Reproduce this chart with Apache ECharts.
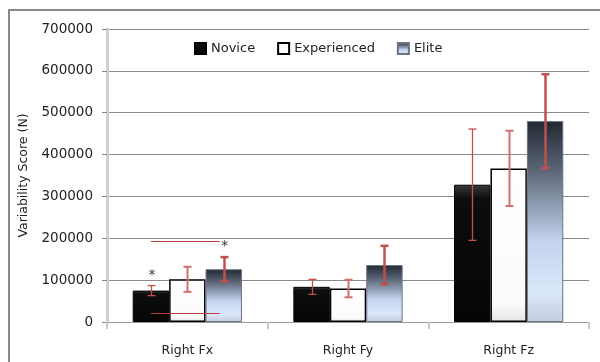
<!DOCTYPE html>
<html><head><meta charset="utf-8">
<script src="https://cdn.jsdelivr.net/npm/echarts@6/dist/echarts.min.js"></script>
<style>html,body{margin:0;padding:0;background:#fff}#c{width:600px;height:362px}</style>
</head><body><div id="c"></div>
<script>
const categories = ['Right Fx', 'Right Fy', 'Right Fz'];
const seriesNames = ['Novice', 'Experienced', 'Elite'];
const noviceMean = [75000, 84000, 328000];
const noviceErr = [12000, 18000, 133000];
const experiencedMean = [102000, 80000, 367000];
const experiencedErr = [30000, 21000, 90000];
const eliteMean = [126000, 136000, 480000];
const eliteErr = [29000, 46000, 112000];
const yTicks = [0, 100000, 200000, 300000, 400000, 500000, 600000, 700000];
// significance annotations: [categoryIndex, fromBar, toBar, value]
const sigLines = [[0, 0, 2, 193500], [0, 0, 2, 21500]];
// asterisks: [categoryIndex, barIndex, value]
const asterisks = [[0, 0, 122000], [0, 2, 190000]];

const means = [noviceMean, experiencedMean, eliteMean];
const errs = [noviceErr, experiencedErr, eliteErr];
const GAP = 0.32;

const barStyles = [
  { color: new echarts.graphic.LinearGradient(0,0,0,1,[{offset:0,color:'#3a3a3a'},{offset:0.1,color:'#0d0d0d'},{offset:1,color:'#050505'}]), borderColor:'#000', borderWidth:1 },
  { color: new echarts.graphic.LinearGradient(0,0,0,1,[{offset:0,color:'#ffffff'},{offset:0.88,color:'#fbfbfb'},{offset:1,color:'#e4e4e4'}]), borderColor:'#000', borderWidth:1.5 },
  { color: new echarts.graphic.LinearGradient(0,0,0,1,[{offset:0,color:'#222833'},{offset:0.25,color:'#5d6778'},{offset:0.6,color:'#c4d4ee'},{offset:0.85,color:'#dbe7fa'},{offset:1,color:'#c3cde0'}]), borderColor:'#6b7383', borderWidth:1 }
];
const errStyles = [
  { stroke:'#c0504d', lineWidth:1.3 },
  { stroke:'#d0706d', lineWidth:2 },
  { stroke:'#c0504d', lineWidth:2.5 }
];

function barOffset(api, k) {
  const band = api.size([1, 0])[0];
  const bw = band * (1 - GAP) / 3;
  return { bw: bw, off: (k - 1) * bw };
}

const series = [];
for (let k = 0; k < 3; k++) {
  series.push({
    name: seriesNames[k], type: 'bar', data: means[k],
    barGap: '0%', barCategoryGap: (GAP*100) + '%',
    itemStyle: barStyles[k], z: 2
  });
}
for (let k = 0; k < 3; k++) {
  series.push({
    type: 'custom', name: 'err' + k, z: 5, silent: true,
    data: categories.map((c, i) => [i, means[k][i] - errs[k][i], means[k][i] + errs[k][i]]),
    renderItem: function (params, api) {
      const i = api.value(0);
      const lo = api.coord([i, api.value(1)]);
      const hi = api.coord([i, api.value(2)]);
      const o = barOffset(api, k);
      const x = Math.round(lo[0] + o.off) + 0.5;
      const cw = 4;
      const st = errStyles[k];
      return { type: 'group', children: [
        { type: 'line', shape: { x1: x, y1: lo[1], x2: x, y2: hi[1] }, style: st },
        { type: 'line', shape: { x1: x - cw, y1: lo[1], x2: x + cw, y2: lo[1] }, style: st },
        { type: 'line', shape: { x1: x - cw, y1: hi[1], x2: x + cw, y2: hi[1] }, style: st }
      ]};
    }
  });
}
series.push({
  type: 'custom', name: 'sig', z: 6, silent: true,
  data: sigLines,
  renderItem: function (params, api) {
    const i = api.value(0);
    const p = api.coord([i, api.value(3)]);
    const a = barOffset(api, api.value(1));
    const b = barOffset(api, api.value(2));
    const y = Math.round(p[1]) + 0.5;
    return { type: 'line', shape: { x1: p[0] + a.off, y1: y, x2: p[0] + b.off - 4, y2: y }, style: { stroke: '#c0393a', lineWidth: 1.2 } };
  }
});
series.push({
  type: 'custom', name: 'ast', z: 6, silent: true,
  data: asterisks,
  renderItem: function (params, api) {
    const i = api.value(0);
    const p = api.coord([i, api.value(2)]);
    const o = barOffset(api, api.value(1));
    return { type: 'text', style: { x: p[0] + o.off + 1, y: p[1] + 4, text: '*', fill: '#333', font: '14px "DejaVu Sans"', align: 'center', verticalAlign: 'middle' } };
  }
});

const chart = echarts.init(document.getElementById('c'), null, { renderer: 'canvas' });
chart.setOption({
  animation: false,
  backgroundColor: '#fff',
  textStyle: { fontFamily: 'DejaVu Sans' },
  graphic: [
    { type: 'polyline', shape: { points: [[9, 362], [9, 10], [600, 10]] }, style: { stroke: '#8a8a8a', lineWidth: 2, fill: null }, silent: true }
  ],
  legend: {
    data: seriesNames, top: 42, left: 194, padding: 0, itemWidth: 11, itemHeight: 11, itemGap: 22,
    textStyle: { fontSize: 13, color: '#222', fontFamily: 'DejaVu Sans' },
    icon: 'rect'
  },
  grid: { left: 107, right: 11, top: 29, bottom: 40 },
  xAxis: {
    type: 'category', data: categories,
    axisLine: { lineStyle: { color: '#999', width: 1 } },
    axisTick: { show: true, length: 7, lineStyle: { color: '#c8c8c8', width: 2 } },
    axisLabel: { color: '#222', fontSize: 12.5, margin: 22 }
  },
  yAxis: {
    type: 'value', min: 0, max: 700000, interval: 100000,
    name: 'Variability Score (N)', nameLocation: 'middle', nameGap: 74,
    nameTextStyle: { fontSize: 12.5, color: '#222' },
    axisLine: { show: true, lineStyle: { color: '#d0d0d0', width: 3 } },
    axisTick: { show: true, length: 5, lineStyle: { color: '#888' } },
    axisLabel: { color: '#222', fontSize: 13.5, margin: 14, formatter: v => yTicks.includes(v) ? String(v) : '' },
    splitLine: { lineStyle: { color: '#8a8a8a', width: 1 } }
  },
  series: series
});
</script></body></html>
